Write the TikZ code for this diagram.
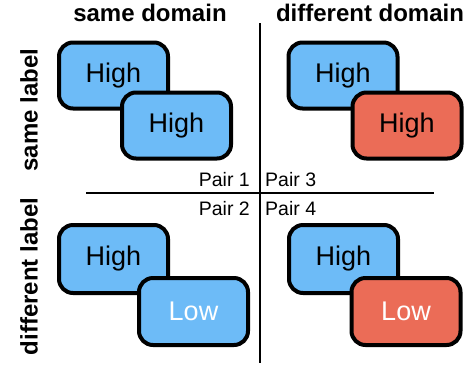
\documentclass[tikz,border=0pt]{standalone}
\usepackage{fontspec}
\setmainfont{Liberation Sans}
\definecolor{boxblue}{HTML}{6DBBF7}
\definecolor{boxred}{HTML}{EB6C57}
\begin{document}
\begin{tikzpicture}[x=1pt,y=-1pt,
  card/.style={draw=black, line width=4pt, rounded corners=14pt, inner sep=0pt,
    minimum width=109pt, minimum height=66pt, font=\fontsize{27}{30}\selectfont},
  bluecard/.style={card, fill=boxblue, text=black},
  redcard/.style={card, fill=boxred, text=black},
  lowtext/.style={text=white},
  header/.style={font=\fontsize{24}{28}\selectfont\bfseries, inner sep=0pt},
  pairlbl/.style={font=\fontsize{19.5}{22}\selectfont, inner sep=0pt},
  divider/.style={line width=2pt}
]
\useasboundingbox (0,0) rectangle (471,368);
% headers
\node[header] (hsame) at (150,13) {same domain};
\node[header] (hdiff) at (370,13) {different domain};
\node[header, rotate=90] (lsame) at (29,110) {same label};
\node[header, rotate=90] (ldiff) at (29,276.5) {different label};
% dividers
\coordinate (vt) at (260,23);
\coordinate (vb) at (260,363);
\coordinate (hl) at (86,193);
\coordinate (hr) at (434,193);
\draw[divider] (vt) -- (vb);
\draw[divider] (hl) -- (hr);
% pair labels
\node[pairlbl, anchor=base east] (p1) at (250,186) {Pair 1};
\node[pairlbl, anchor=base west] (p3) at (265,186) {Pair 3};
\node[pairlbl, anchor=base east] (p2) at (250,215) {Pair 2};
\node[pairlbl, anchor=base west] (p4) at (265,215) {Pair 4};
% top-left
\node[bluecard] (a) at (113.5,75.5) {High};
\node[bluecard] (b) at (176.5,125.5) {High};
% top-right
\node[bluecard] (c) at (343,75.5) {High};
\node[redcard] (d) at (407,125.5) {High};
% bottom-left
\node[bluecard, minimum height=68pt] (e) at (113.5,259) {High};
\node[bluecard, lowtext, minimum height=67pt] (f) at (193.5,311.5) {Low};
% bottom-right
\node[bluecard, minimum height=68pt] (g) at (343.5,259) {High};
\node[redcard, lowtext, minimum height=67pt] (h) at (406,311.5) {Low};
\end{tikzpicture}
\end{document}
